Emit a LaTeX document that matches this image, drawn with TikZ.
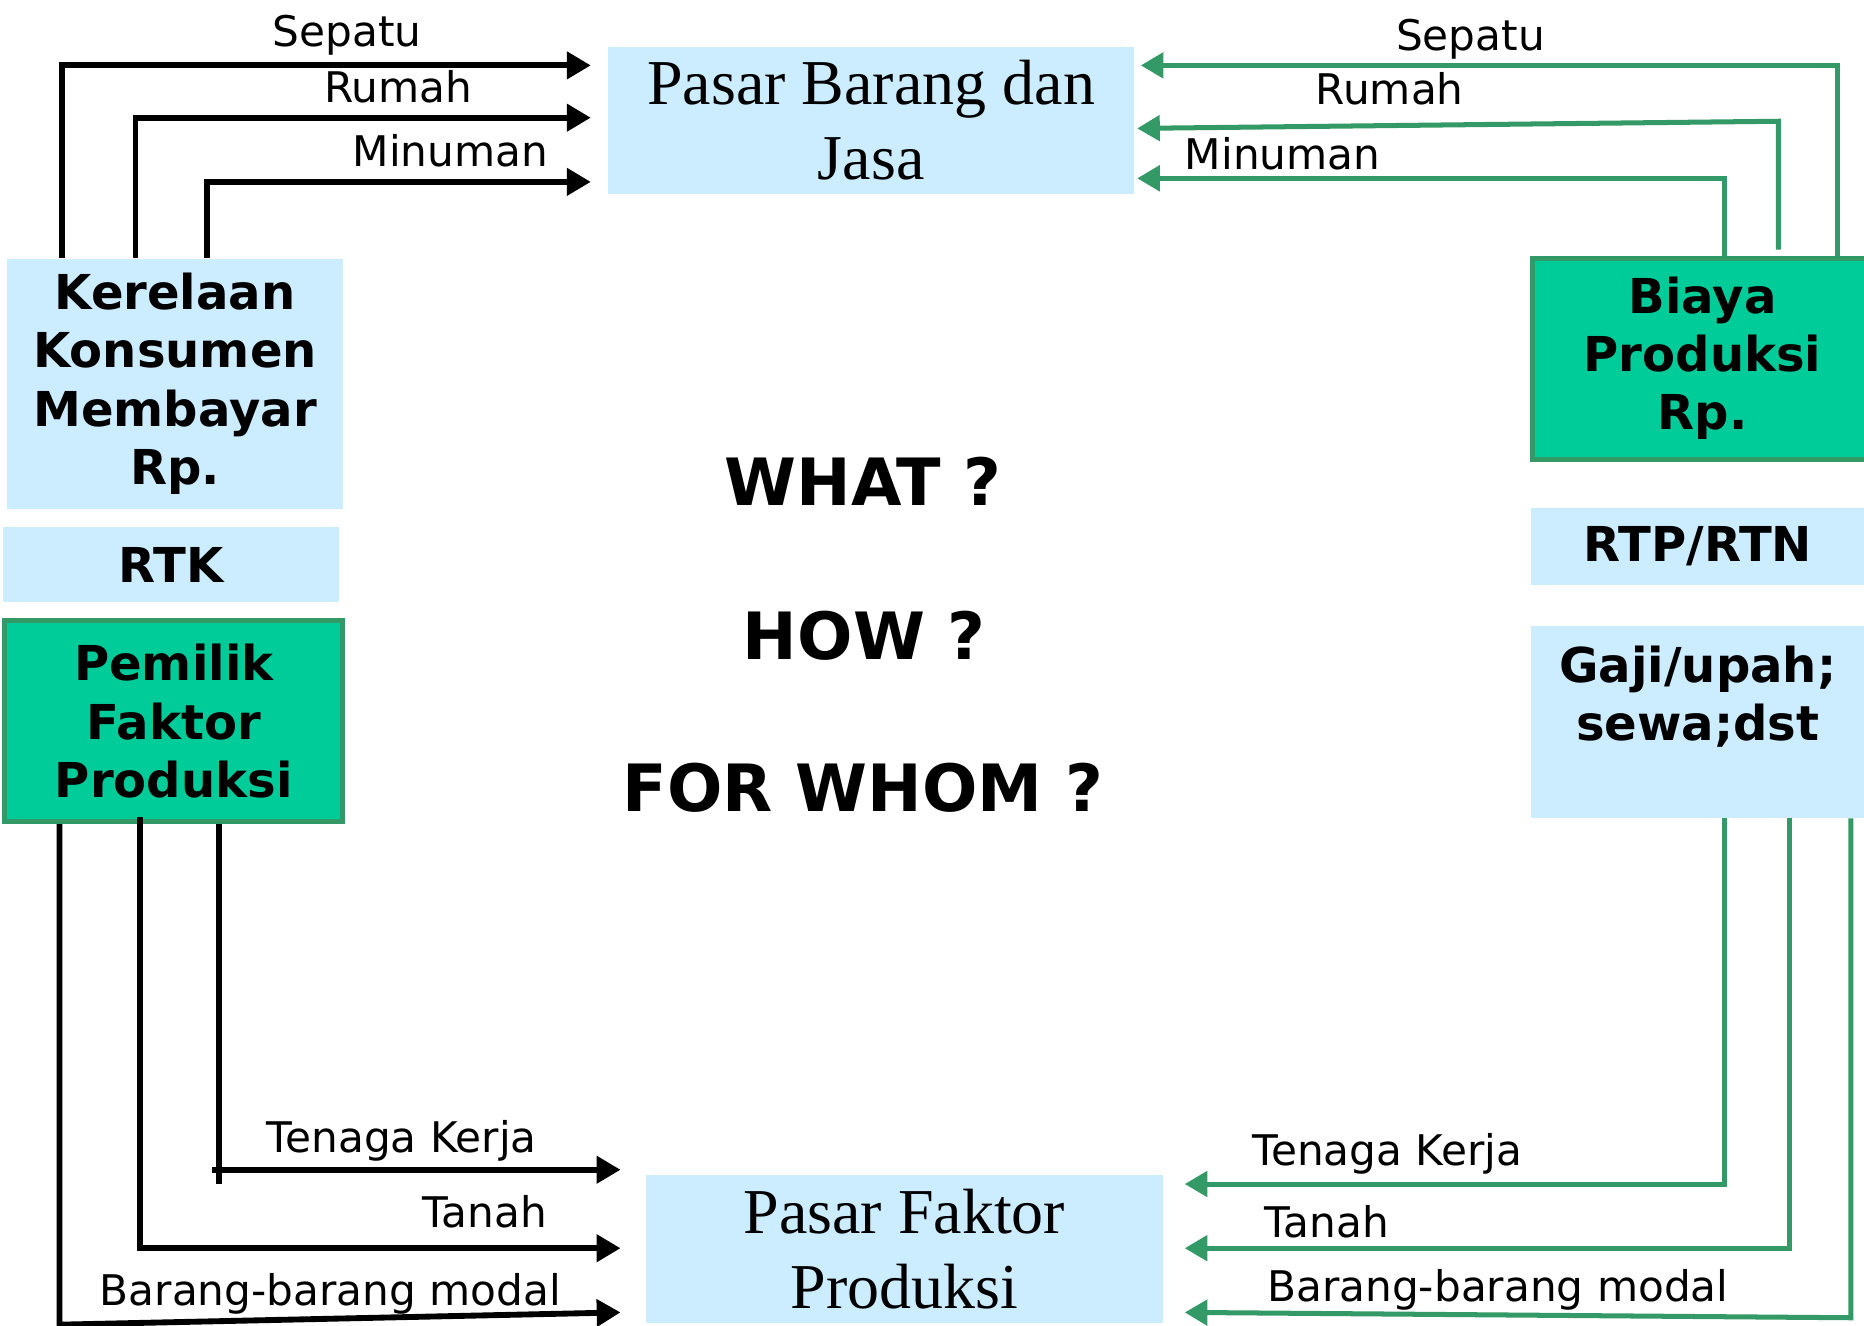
\documentclass[tikz,border=0pt]{standalone}
\usepackage{fontspec}
\setmainfont{Liberation Serif}
\setsansfont{DejaVu Sans}
\usetikzlibrary{arrows.meta, calc, positioning}

\definecolor{boxblue}{HTML}{CCECFF}
\definecolor{boxgreen}{HTML}{00CC99}
\definecolor{flowgreen}{HTML}{339966}

\tikzset{
	bluebox/.style={anchor=north west, inner sep=0pt, fill=boxblue, align=center,
		font=\sffamily\bfseries\fontsize{11.5}{13.9}\selectfont},
	greenbox/.style={bluebox, fill=boxgreen, draw=flowgreen, line width=1.2pt},
	market/.style={anchor=north west, inner sep=0pt, fill=boxblue, align=center,
		font=\rmfamily\fontsize{15.3}{17.9}\selectfont},
	lbl/.style={inner sep=0pt, font=\sffamily\fontsize{10.1}{12}\selectfont},
	big/.style={inner sep=0pt, font=\sffamily\bfseries\fontsize{15.6}{18}\selectfont},
	blk/.style={line width=1.4pt, -{Triangle[length=5.7pt, width=6.3pt]}},
	grn/.style={draw=flowgreen, line width=1.2pt, -{Triangle[length=5.4pt, width=6pt]}},
}

\begin{document}
\begin{tikzpicture}[x=0.01cm, y=-0.01cm]
	\useasboundingbox (0,0) rectangle (1568,1115);

	% markets
	\node (pbj) [market, minimum width=4.42cm, minimum height=1.23cm] at (511,39) {Pasar Barang dan\\Jasa};
	\node (pfp) [market, minimum width=4.34cm, minimum height=1.24cm] at (543,988) {Pasar Faktor\\Produksi};

	% households
	\node (kerelaan) [bluebox, minimum width=2.83cm, minimum height=2.10cm] at (5,217) {Kerelaan\\Konsumen\\Membayar\\Rp.};
	\node (rtk) [bluebox, minimum width=2.82cm, minimum height=0.63cm] at (2,443) {RTK};
	\node (pemilik) [greenbox, minimum width=2.84cm, minimum height=1.69cm] at (2,520) {Pemilik\\Faktor\\Produksi};

	% firms
	\node (biaya) [greenbox, minimum width=2.86cm, minimum height=1.69cm] at (1287,215) {Biaya\\Produksi\\Rp.};
	\node (rtp) [bluebox, minimum width=2.81cm, minimum height=0.64cm] at (1287,427) {RTP/RTN};
	\node (gaji) [bluebox, minimum width=2.81cm, minimum height=1.61cm] at (1287,526) {Gaji/upah;\\sewa;dst\\\mbox{}};

	% questions
	\node (what) [big] at (726,405) {WHAT ?};
	\node (how) [big] at (727,535) {HOW ?};
	\node (whom) [big] at (726,663) {FOR WHOM ?};

	% goods, households to market
	\draw[blk] ($(kerelaan.north west)+(47,0)$) |- ($(pbj.north west)+(-14,16)$);
	\draw[blk] ($(kerelaan.north west)+(109,0)$) |- ($(pbj.north west)+(-14,60)$);
	\draw[blk] ($(kerelaan.north west)+(169,0)$) |- ($(pbj.north west)+(-14,114)$);
	\node (sepatuL) [lbl] at (292,30) {Sepatu};
	\node (rumahL) [lbl] at (335,73) {Rumah};
	\node (minumanL) [lbl] at (379,127) {Minuman};

	% goods, firms to market
	\draw[grn] ($(biaya.north west)+(259,0)$) |- ($(pbj.north east)+(5,16)$);
	\draw[grn] ($(biaya.north west)+(209,-5)$) -- ++(0,-108) -- ($(pbj.north east)+(2,69)$);
	\draw[grn] ($(biaya.north west)+(164,0)$) |- ($(pbj.north east)+(2,111)$);
	\node (sepatuR) [lbl] at (1237,33) {Sepatu};
	\node (rumahR) [lbl] at (1169,75) {Rumah};
	\node (minumanR) [lbl] at (1079,129) {Minuman};

	% factors, households to market
	\coordinate (tkstart) at (178,984);
	\draw[line width=1.4pt] ($(pemilik.south west)+(182,0)$) -- ++(0,303);
	\draw[blk] (tkstart) -- ($(tkstart -| pfp.west)+(-21,0)$);
	\draw[blk] ($(pemilik.south west)+(116,-6)$) |- ($(pfp.north west)+(-21,62)$);
	\draw[blk] ($(pemilik.south west)+(48,0)$) -- ++(0,421) -- ($(pfp.north west)+(-21,116)$);
	\node (tenagaL) [lbl] at (338,960) {Tenaga Kerja};
	\node (tanahL) [lbl] at (408,1019) {Tanah};
	\node (modalL) [lbl] at (278,1088) {Barang-barang modal};

	% factors, firms to market
	\draw[grn] ($(gaji.south west)+(164,0)$) |- ($(pfp.north east)+(18,8)$);
	\draw[grn] ($(gaji.south west)+(218,0)$) |- ($(pfp.north east)+(18,62)$);
	\draw[grn] ($(gaji.south west)+(270,0)$) -- ++(0,420) -- ($(pfp.north east)+(18,116)$);
	\node (tenagaR) [lbl] at (1167,971) {Tenaga Kerja};
	\node (tanahR) [lbl] at (1116,1028) {Tanah};
	\node (modalR) [lbl] at (1260,1085) {Barang-barang modal};
\end{tikzpicture}
\end{document}
